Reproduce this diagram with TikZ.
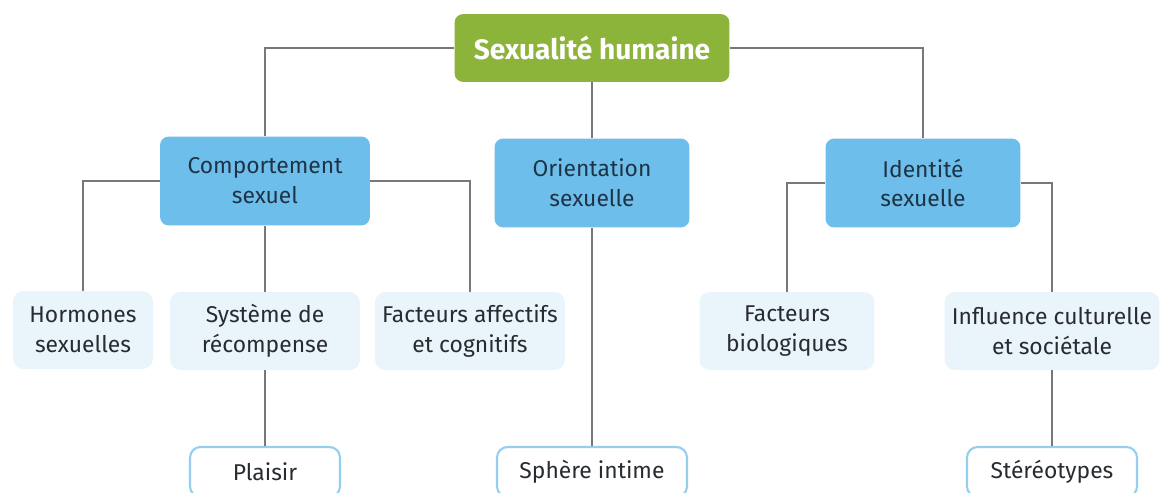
\documentclass[tikz,border=0pt]{standalone}
\usepackage{fontspec}
\setmainfont{Fira Sans}
\usepackage{tikz}
\usetikzlibrary{positioning,calc}
\definecolor{rootgreen}{RGB}{141,180,58}
\definecolor{midblue}{RGB}{110,190,236}
\definecolor{paleblue}{RGB}{234,244,251}
\definecolor{edgeblue}{RGB}{150,206,238}
\definecolor{linkgray}{RGB}{120,120,120}
\definecolor{darktext}{RGB}{40,44,48}
\definecolor{navytext}{RGB}{30,52,70}
\tikzset{
  rootbox/.style={fill=rootgreen, rounded corners=5pt, text=white,
                  font=\fontsize{16}{19}\selectfont\bfseries,
                  minimum width=5.5cm, minimum height=1.36cm, align=center},
  midbox/.style={fill=midblue, rounded corners=5pt, text=navytext,
                 font=\fontsize{13}{17}\selectfont,
                 minimum height=1.78cm, align=center},
  leafbox/.style={fill=paleblue, rounded corners=6pt, text=darktext,
                  font=\fontsize{13}{17}\selectfont,
                  minimum height=1.56cm, align=center},
  endbox/.style={draw=edgeblue, line width=1.2pt, fill=white, rounded corners=6pt,
                 text=darktext, font=\fontsize{13}{17}\selectfont,
                 minimum height=1.0cm, align=center},
  link/.style={draw=linkgray, line width=1.1pt},
}
\begin{document}
\begin{tikzpicture}[x=0.02cm, y=-0.02cm]
  \useasboundingbox (0,0) rectangle (1160,493);
  % top of the tree
  \node[rootbox] (root) at (592,48) {Sexualité humaine};
  % second row
  \node[midbox, minimum width=4.2cm] (comp) at (265,181) {Comportement\\ sexuel};
  \node[midbox, minimum width=3.9cm] (orient) at (592,183) {Orientation\\ sexuelle};
  \node[midbox, minimum width=3.9cm] (ident) at (923,183) {Identité\\ sexuelle};
  % third row
  \node[leafbox, minimum width=2.8cm] (horm) at (83,330) {Hormones\\ sexuelles};
  \node[leafbox, minimum width=3.8cm] (recomp) at (265,331) {Système de\\ récompense};
  \node[leafbox, minimum width=3.8cm] (affect) at (470,331) {Facteurs affectifs\\ et cognitifs};
  \node[leafbox, minimum width=3.5cm] (bio) at (787,331) {Facteurs\\ biologiques};
  \node[leafbox, minimum width=4.3cm] (cult) at (1052,331) {Influence culturelle\\ et sociétale};
  % last row
  \node[endbox, minimum width=3.0cm] (plaisir) at (265,472) {Plaisir};
  \node[endbox, minimum width=3.8cm] (sphere) at (592,472) {Sphère intime};
  \node[endbox, minimum width=3.4cm] (stereo) at (1052,472) {Stéréotypes};
  % connectors
  \draw[link] (root.west) -| (comp.north);
  \draw[link] (root.south) -- (orient.north);
  \draw[link] (root.east) -| (ident.north);
  \draw[link] (comp.west) -| (horm.north);
  \draw[link] (comp.south) -- (recomp.north);
  \draw[link] (comp.east) -| (affect.north);
  \draw[link] (ident.west) -| (bio.north);
  \draw[link] (ident.east) -| (cult.north);
  \draw[link] (recomp.south) -- (plaisir.north);
  \draw[link] (orient.south) -- (sphere.north);
  \draw[link] (cult.south) -- (stereo.north);
\end{tikzpicture}
\end{document}
